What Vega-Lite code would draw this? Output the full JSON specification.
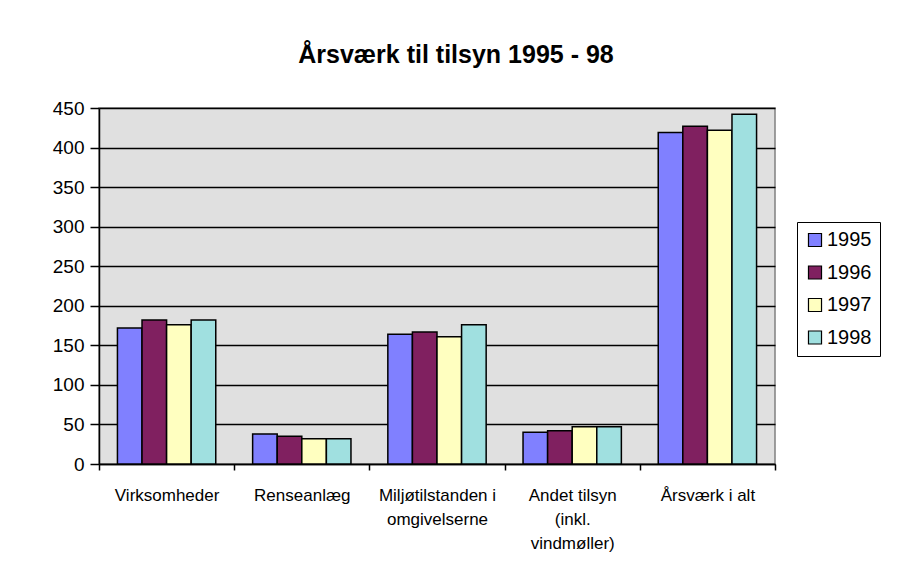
{
  "$schema": "https://vega.github.io/schema/vega-lite/v6.json",
  "width": 676,
  "height": 356,
  "autosize": {"type": "none"},
  "padding": {"left": 99, "top": 108, "right": 124, "bottom": 120},
  "background": "white",
  "title": {
    "text": "Årsværk til tilsyn 1995 - 98",
    "font": "Liberation Sans",
    "fontSize": 25,
    "fontWeight": "bold",
    "color": "black",
    "anchor": "middle",
    "dx": 19,
    "offset": 31
  },
  "data": {
    "values": [
      {"kategori": "Virksomheder", "aar": "1995", "aarsvaerk": 172},
      {"kategori": "Virksomheder", "aar": "1996", "aarsvaerk": 182},
      {"kategori": "Virksomheder", "aar": "1997", "aarsvaerk": 176},
      {"kategori": "Virksomheder", "aar": "1998", "aarsvaerk": 182},
      {"kategori": "Renseanlæg", "aar": "1995", "aarsvaerk": 38},
      {"kategori": "Renseanlæg", "aar": "1996", "aarsvaerk": 35},
      {"kategori": "Renseanlæg", "aar": "1997", "aarsvaerk": 32},
      {"kategori": "Renseanlæg", "aar": "1998", "aarsvaerk": 32},
      {"kategori": "Miljøtilstanden i omgivelserne", "aar": "1995", "aarsvaerk": 164},
      {"kategori": "Miljøtilstanden i omgivelserne", "aar": "1996", "aarsvaerk": 167},
      {"kategori": "Miljøtilstanden i omgivelserne", "aar": "1997", "aarsvaerk": 161},
      {"kategori": "Miljøtilstanden i omgivelserne", "aar": "1998", "aarsvaerk": 176},
      {"kategori": "Andet tilsyn (inkl. vindmøller)", "aar": "1995", "aarsvaerk": 40},
      {"kategori": "Andet tilsyn (inkl. vindmøller)", "aar": "1996", "aarsvaerk": 42},
      {"kategori": "Andet tilsyn (inkl. vindmøller)", "aar": "1997", "aarsvaerk": 47},
      {"kategori": "Andet tilsyn (inkl. vindmøller)", "aar": "1998", "aarsvaerk": 47},
      {"kategori": "Årsværk i alt", "aar": "1995", "aarsvaerk": 419},
      {"kategori": "Årsværk i alt", "aar": "1996", "aarsvaerk": 427},
      {"kategori": "Årsværk i alt", "aar": "1997", "aarsvaerk": 422},
      {"kategori": "Årsværk i alt", "aar": "1998", "aarsvaerk": 442}
    ]
  },
  "mark": {"type": "bar", "stroke": "black", "strokeWidth": 1.5},
  "encoding": {
    "x": {
      "field": "kategori",
      "type": "nominal",
      "sort": null,
      "scale": {"paddingInner": 0, "paddingOuter": 0},
      "axis": {
        "title": null,
        "labelAngle": 0,
        "labelFont": "Liberation Sans",
        "labelFontSize": 17,
        "labelColor": "black",
        "labelLineHeight": 24,
        "labelPadding": 17,
        "labelLimit": 0,
        "labelExpr": "datum.value == 'Miljøtilstanden i omgivelserne' ? ['Miljøtilstanden i', 'omgivelserne'] : datum.value == 'Andet tilsyn (inkl. vindmøller)' ? ['Andet tilsyn', '(inkl.', 'vindmøller)'] : datum.value",
        "tickBand": "extent",
        "tickColor": "black",
        "tickSize": 6,
        "tickWidth": 1.5,
        "domainColor": "black",
        "domainWidth": 1.5,
        "grid": false
      }
    },
    "xOffset": {
      "field": "aar",
      "type": "nominal",
      "scale": {"paddingInner": 0, "paddingOuter": 0.75}
    },
    "y": {
      "field": "aarsvaerk",
      "type": "quantitative",
      "scale": {"domain": [0, 450], "nice": false},
      "axis": {
        "title": null,
        "values": [0, 50, 100, 150, 200, 250, 300, 350, 400, 450],
        "labelFont": "Liberation Sans",
        "labelFontSize": 19,
        "labelColor": "black",
        "labelPadding": 6,
        "tickColor": "black",
        "tickSize": 9,
        "tickWidth": 1.5,
        "domainColor": "black",
        "domainWidth": 1.5,
        "grid": true,
        "gridColor": "black",
        "gridWidth": 1.3
      }
    },
    "fill": {
      "field": "aar",
      "type": "nominal",
      "scale": {
        "domain": ["1995", "1996", "1997", "1998"],
        "range": ["#8080FF", "#802060", "#FFFFC0", "#A0E0E0"]
      },
      "legend": {
        "title": null,
        "orient": "none",
        "legendX": 698,
        "legendY": 114,
        "symbolType": "square",
        "symbolSize": 170,
        "symbolStrokeColor": "black",
        "symbolStrokeWidth": 1.2,
        "labelFont": "Liberation Sans",
        "labelFontSize": 20,
        "labelColor": "black",
        "labelOffset": 2,
        "rowPadding": 12.5,
        "strokeColor": "black",
        "padding": 8
      }
    }
  },
  "config": {
    "view": {"fill": "#E0E0E0", "stroke": "#808080", "strokeWidth": 1.5}
  }
}
